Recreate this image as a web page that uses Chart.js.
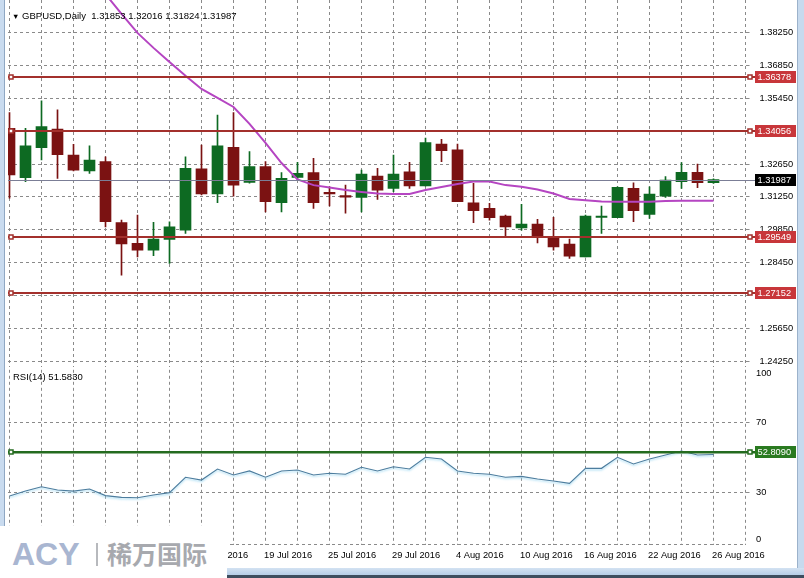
<!DOCTYPE html>
<html>
<head>
<meta charset="utf-8">
<script src="https://cdn.jsdelivr.net/npm/chart.js@4/dist/chart.umd.min.js"></script>
<style>
html,body{margin:0;padding:0;background:#fff;}
#wrap{position:relative;width:804px;height:578px;overflow:hidden;background:#fff;}
canvas{position:absolute;left:0;}
#c1{top:0;}
#c2{top:367px;}
.txt{position:absolute;font-family:'Liberation Sans',Arial,sans-serif;font-size:9.5px;line-height:11px;color:#000;white-space:pre;}
#rstrip{position:absolute;left:797px;top:0;width:7px;height:578px;background:#c7daee;border-left:1px solid #9cb2cb;box-sizing:border-box;}
#bbar{position:absolute;left:0;top:568px;width:804px;height:10px;background:linear-gradient(#d3e2f2,#b6cde6 70%,#3d4d5e 70%);}
#lstrip{position:absolute;left:0;top:0;width:5px;height:568px;background:#c9dbef;border-right:1px solid #8fa7c3;box-sizing:border-box;}
#logo{position:absolute;left:0;top:526px;width:227px;height:52px;background:#fff;}
#acy{position:absolute;left:12px;top:12px;font:bold 32px/32px 'Liberation Sans',Arial,sans-serif;color:#a9b6d1;}
#bar{position:absolute;left:96px;top:17px;width:2px;height:23px;background:#b7b9bd;}
#cn{position:absolute;left:107px;top:15px;font:bold 25px/25px 'Noto Sans CJK SC',sans-serif;color:#a7a9ae;}
</style>
</head>
<body>
<div id="wrap">
<canvas id="c1" width="804" height="367"></canvas>
<canvas id="c2" width="804" height="211"></canvas>
<div id="lstrip"></div>
<div id="rstrip"></div>
<div id="bbar"></div>
<div class="txt" style="left:12px;top:9.5px;"><span style="font-size:7.5px;">▼</span> GBPUSD,Daily  1.31853 1.32016 1.31824 1.31987</div>
<div class="txt" style="left:13px;top:371px;">RSI(14) 51.5830</div>
<div id="logo"><span id="acy">ACY</span><span id="bar"></span><span id="cn">稀万国际</span></div>
</div>
<script>
// ---------- data ----------
const OPEN  = [1.3417,1.3207,1.3335,1.3414,1.3303,1.3235,1.3275,1.3015,1.2927,1.2898,
               1.2944,1.2983,1.3244,1.3137,1.3336,1.3187,1.3254,1.3100,1.3208,1.3228,
               1.3141,1.3128,1.3123,1.3214,1.3161,1.3232,1.3172,1.3350,1.3325,1.3100,
               1.3076,1.3043,1.2993,1.3009,1.2955,1.2924,1.2869,1.3037,1.3036,1.3161,
               1.3050,1.3128,1.3190,1.3230,1.31853];
const HIGH  = [1.3484,1.3417,1.3534,1.3496,1.3349,1.3342,1.3296,1.3026,1.3047,1.3016,
               1.3019,1.3296,1.3346,1.3474,1.3484,1.3318,1.3275,1.3228,1.3272,1.3289,
               1.3168,1.3175,1.3239,1.3247,1.3303,1.3272,1.3375,1.3370,1.3350,1.3183,
               1.3097,1.3047,1.3093,1.3029,1.3038,1.2945,1.3047,1.3086,1.3168,1.3185,
               1.3168,1.3211,1.3271,1.3265,1.32016];
const LOW   = [1.3119,1.3190,1.3282,1.3204,1.3236,1.3225,1.2997,1.2791,1.2869,1.2874,
               1.2841,1.2969,1.3133,1.3100,1.3128,1.3183,1.3061,1.3061,1.3197,1.3076,
               1.3086,1.3055,1.3061,1.3114,1.3147,1.3161,1.3172,1.3275,1.3104,1.3015,
               1.3026,1.2955,1.2983,1.2929,1.2898,1.2863,1.2869,1.2969,1.3036,1.3019,
               1.3033,1.3123,1.3161,1.3164,1.31824];
const CLOSE = [1.3218,1.3342,1.3424,1.3305,1.3239,1.3282,1.3019,1.2924,1.2898,1.2945,
               1.2997,1.3247,1.3137,1.3342,1.3175,1.3254,1.3104,1.3204,1.3225,1.3100,
               1.3138,1.3124,1.3222,1.3154,1.3222,1.3172,1.3356,1.3322,1.3104,1.3066,
               1.3036,1.2997,1.3009,1.2952,1.2912,1.2872,1.3043,1.3040,1.3166,1.3066,
               1.3137,1.3197,1.3230,1.3185,1.31987];
const MA    = [null,null,null,null,null,null,1.3989,1.3905,1.3824,1.3760,
               1.3700,1.3641,1.3585,1.3547,1.3508,1.3436,1.3355,1.3269,1.3199,1.3175,
               1.3165,1.3154,1.3146,1.3139,1.3137,1.3137,1.3154,1.3167,1.3180,1.3190,
               1.3190,1.3175,1.3168,1.3156,1.3139,1.3116,1.3111,1.3105,1.3104,1.3104,
               1.3104,1.3107,1.3108,1.3108,1.3108];
const RSI   = [27.9,30.7,33.2,31.3,30.7,31.9,28.1,27.1,26.9,28.5,
               29.8,38.6,37.0,43.3,39.9,42.2,38.6,42.2,42.7,39.9,
               40.9,40.3,44.3,42.2,44.6,43.3,50.0,49.0,42.2,40.9,
               40.3,38.6,39.1,37.6,36.5,35.1,43.7,43.7,50.0,46.2,
               49.0,51.3,53.6,51.3,51.583];
const X_LABELS = ['27 Jun 2016','1 Jul 2016','7 Jul 2016','13 Jul 2016','19 Jul 2016','25 Jul 2016',
                  '29 Jul 2016','4 Aug 2016','10 Aug 2016','16 Aug 2016','22 Aug 2016','26 Aug 2016'];
const PRICE_TICKS = [1.24250,1.25650,1.27050,1.28450,1.29850,1.31250,1.32650,1.34050,1.35450,1.36850,1.38250];
const RSI_TICKS = [0,30,70,100];
const RED_LEVELS = [1.36378,1.34056,1.29549,1.27152];
const CURRENT_PRICE = 1.31987;
const RSI_LEVEL = 52.8090;

// ---------- styles ----------
const BULL='#0d6a22', BEAR='#7b1212', MA_COLOR='#b545c2', RSI_COLOR='#4d7d9e';
const GRID='#8a8a8a', RED_LINE='#a3302c', RED_BOX='#c8363a', GREEN_LINE='#246b1f', GREEN_BOX='#2a7a20';
const CUR_LINE='#7b7e96';
const FONT_FAMILY="'Liberation Sans', Arial, sans-serif";
Chart.defaults.font.family = FONT_FAMILY;
Chart.defaults.font.size = 9.3;
Chart.defaults.color = '#000';

const IDX = OPEN.map((_, i) => i);
const COLORS = IDX.map(i => CLOSE[i] >= OPEN[i] ? BULL : BEAR);
const X_MIN = -0.09375, X_MAX = 46;
const X_GRID = Array.from({length: 24}, (_, k) => k * 2);
const AXIS_W = 58.5;
const TAG_X = 755;

function marker(ctx, x, y, color) {
  ctx.fillStyle = '#fff';
  ctx.fillRect(x - 2, y - 2, 4, 4);
  ctx.strokeStyle = color; ctx.lineWidth = 1.5;
  ctx.strokeRect(x - 2, y - 2, 4, 4);
}
function tag(ctx, y, text, bg) {
  const yy = Math.round(y);
  ctx.fillStyle = bg;
  ctx.fillRect(TAG_X, yy - 6, 41, 12);
  ctx.fillStyle = '#fff';
  ctx.font = '9.3px ' + FONT_FAMILY;
  ctx.textAlign = 'left'; ctx.textBaseline = 'middle';
  ctx.fillText(text, TAG_X + 2.5, yy + 0.5);
}
function xScaleBase(showLabels) {
  return {
    type: 'linear', min: X_MIN, max: X_MAX, offset: false, bounds: 'data',
    afterBuildTicks: s => { s.ticks = X_GRID.map(v => ({value: v})); },
    grid: {color: GRID, lineWidth: 1, drawTicks: false, offset: false},
    border: {display: false, dash: [3, 3]},
    ticks: showLabels ? {
      display: true, autoSkip: false, maxRotation: 0, minRotation: 0, align: 'start', padding: 5, labelOffset: -1.5,
      callback: v => (v % 4 === 0 && v / 4 < X_LABELS.length) ? X_LABELS[v / 4] : ''
    } : {display: false}
  };
}

// ---------- price chart ----------
const pricePlugin = {
  id: 'priceLevels',
  afterDatasetsDraw(chart) {
    const {ctx, chartArea: a, scales: {y}} = chart;
    ctx.save();
    const yc = Math.round(y.getPixelForValue(CURRENT_PRICE)) + 0.5;
    ctx.strokeStyle = CUR_LINE; ctx.lineWidth = 1;
    ctx.beginPath(); ctx.moveTo(a.left, yc); ctx.lineTo(TAG_X, yc); ctx.stroke();
    RED_LEVELS.forEach(L => {
      const yy = Math.round(y.getPixelForValue(L));
      ctx.fillStyle = RED_LINE;
      ctx.fillRect(a.left, yy - 1, TAG_X - a.left, 2);
      marker(ctx, 11, yy, RED_LINE);
      marker(ctx, 750, yy, RED_LINE);
    });
    ctx.restore();
  },
  afterDraw(chart) {
    const {ctx, scales: {y}} = chart;
    ctx.save();
    RED_LEVELS.forEach(L => tag(ctx, y.getPixelForValue(L), L.toFixed(5), RED_BOX));
    tag(ctx, y.getPixelForValue(CURRENT_PRICE), CURRENT_PRICE.toFixed(5), '#000');
    ctx.restore();
  }
};

new Chart(document.getElementById('c1'), {
  type: 'bar',
  data: {
    datasets: [
      {type: 'line', data: IDX.map(i => ({x: i, y: MA[i]})), borderColor: MA_COLOR, borderWidth: 2,
       pointRadius: 0, spanGaps: false, order: 0},
      {type: 'bar', data: IDX.map(i => ({x: i, y: [OPEN[i], CLOSE[i]]})), backgroundColor: COLORS,
       barThickness: 11, minBarLength: 1.5, grouped: false, order: 1},
      {type: 'bar', data: IDX.map(i => ({x: i, y: [LOW[i], HIGH[i]]})), backgroundColor: COLORS,
       barThickness: 1, grouped: false, order: 2}
    ]
  },
  options: {
    responsive: false, animation: false,
    layout: {autoPadding: false, padding: {left: 8, right: 0, top: 0, bottom: 0}},
    plugins: {legend: {display: false}, tooltip: {enabled: false}},
    scales: {
      x: Object.assign(xScaleBase(false), {afterFit: s => { s.height = 0; s.paddingLeft = 0; s.paddingRight = 0; }}),
      y: {
        position: 'right', min: 1.23997, max: 1.39641, beginAtZero: false, bounds: 'data',
        afterBuildTicks: s => { s.ticks = PRICE_TICKS.map(v => ({value: v})); },
        afterFit: s => { s.width = AXIS_W; s.paddingTop = 0; s.paddingBottom = 0; },
        grid: {color: GRID, lineWidth: 1, drawTicks: true, tickLength: 4, tickBorderDash: []},
        border: {display: false, dash: [3, 3]},
        ticks: {autoSkip: false, padding: 10, callback: v => v.toFixed(5)}
      }
    }
  },
  plugins: [pricePlugin]
});

// ---------- RSI chart ----------
const rsiPlugin = {
  id: 'rsiLevels',
  beforeDatasetDraw(chart) {
    const ctx = chart.ctx;
    ctx.save();
    ctx.shadowColor = 'rgba(140,210,240,0.75)';
    ctx.shadowBlur = 2;
    ctx.shadowOffsetY = 1.5;
  },
  afterDatasetDraw(chart) { chart.ctx.restore(); },
  afterDatasetsDraw(chart) {
    const {ctx, chartArea: a, scales: {y}} = chart;
    ctx.save();
    const yy = Math.round(y.getPixelForValue(RSI_LEVEL));
    ctx.fillStyle = GREEN_LINE;
    ctx.fillRect(a.left, yy - 1, TAG_X - a.left, 2.5);
    marker(ctx, 11, yy, GREEN_LINE);
    marker(ctx, 750, yy, GREEN_LINE);
    ctx.restore();
  },
  afterDraw(chart) {
    const {ctx, scales: {y}} = chart;
    ctx.save();
    tag(ctx, y.getPixelForValue(RSI_LEVEL), RSI_LEVEL.toFixed(4), GREEN_BOX);
    ctx.fillStyle = '#000';
    ctx.font = '9.3px ' + FONT_FAMILY;
    ctx.textAlign = 'left'; ctx.textBaseline = 'middle';
    ctx.fillText(String(RSI_TICKS[3]), 756, y.getPixelForValue(100) + 3.5);
    ctx.fillText(String(RSI_TICKS[0]), 756, y.getPixelForValue(0) - 5.5);
    ctx.restore();
  }
};

new Chart(document.getElementById('c2'), {
  type: 'line',
  data: {
    datasets: [
      {data: IDX.map(i => ({x: i, y: RSI[i]})), borderColor: RSI_COLOR, borderWidth: 1.1, pointRadius: 0}
    ]
  },
  options: {
    responsive: false, animation: false,
    layout: {autoPadding: false, padding: {left: 8, right: 0, top: 2.8, bottom: 0}},
    plugins: {legend: {display: false}, tooltip: {enabled: false}},
    scales: {
      x: Object.assign(xScaleBase(true), {afterFit: s => { s.height = 33.2; s.paddingLeft = 0; s.paddingRight = 0; }}),
      y: {
        position: 'right', min: 0, max: 100, beginAtZero: false, bounds: 'data',
        afterBuildTicks: s => { s.ticks = RSI_TICKS.map(v => ({value: v})); },
        afterFit: s => { s.width = AXIS_W; s.paddingTop = 0; s.paddingBottom = 0; },
        grid: {
          color: c => (c.tick && c.tick.value === 100) ? 'rgba(0,0,0,0)' : GRID,
          tickColor: c => (c.tick && (c.tick.value === 30 || c.tick.value === 70)) ? GRID : 'rgba(0,0,0,0)',
          lineWidth: 1, drawTicks: true, tickLength: 4, tickBorderDash: []
        },
        border: {display: false, dash: [3, 3]},
        ticks: {autoSkip: false, padding: 6.5, callback: v => (v === 30 || v === 70) ? String(v) : ''}
      }
    }
  },
  plugins: [rsiPlugin]
});
</script>
</body>
</html>
